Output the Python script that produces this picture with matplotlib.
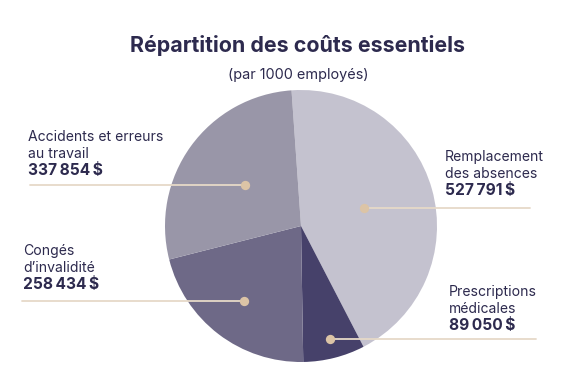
import numpy as np
import matplotlib.pyplot as plt

# data
labels = ["Remplacement\ndes absences", "Prescriptions\nmédicales",
          "Congés\nd\u2019invalidité", "Accidents et erreurs\nau travail"]
values = [527791, 89050, 258434, 337854]
value_labels = ["527\u2009791\u2009$", "89\u2009050\u2009$", "258\u2009434\u2009$", "337\u2009854\u2009$"]

colors = ["#c4c2cf", "#46416a", "#6e6987", "#9996a8"]
text_color = "#2d2a4e"
line_color = "#e6d9c8"
dot_color = "#dcc4a6"

W, H = 570, 378
fig = plt.figure(figsize=(W / 100, H / 100), dpi=100)
ax = fig.add_axes([0, 0, 1, 1])

fam = ["Inter", "DejaVu Sans"]

cx, cy, R = 301, H - 226, 136
wedges, _ = ax.pie(values, center=(cx, cy), radius=R, startangle=94,
                   counterclock=False, colors=colors, frame=True,
                   wedgeprops=dict(linewidth=0))
ax.set_xlim(0, W)
ax.set_ylim(0, H)
ax.set_aspect("equal")
ax.axis("off")

# dot radius (fraction of R), line end x, text anchor (x, top y) in image pixels
dot_r = [0.48, 0.86, 0.69, 0.51]
line_end = [530, 536, 22, 30]
text_pos = [(445, 150), (449, 285), (23, 244), (28, 130)]

for w, r, xe, (tx, ty), lab, val in zip(wedges, dot_r, line_end, text_pos, labels, value_labels):
    mid = np.deg2rad((w.theta1 + w.theta2) / 2)
    dx = cx + r * R * np.cos(mid)
    dy = cy + r * R * np.sin(mid)
    ax.plot([dx, xe], [dy, dy], color=line_color, lw=1.3, zorder=3, solid_capstyle="round")
    ax.scatter([dx], [dy], s=45, color=dot_color, zorder=4, linewidths=0)
    ax.text(tx, H - ty, lab, ha="left", va="top", fontsize=10.1, color=text_color,
            family=fam, linespacing=1.3)
    ax.text(tx, H - ty - 33, val, ha="left", va="top", fontsize=11.2, color=text_color,
            family=fam, fontweight="bold")

ax.text(298, H - 46, "Répartition des coûts essentiels", ha="center", va="center",
        fontsize=15.4, fontweight="bold", color=text_color, family=fam)
ax.text(298, H - 75, "(par 1000 employés)", ha="center", va="center",
        fontsize=10.4, color=text_color, family=fam)

fig.savefig("out.png", dpi=100, facecolor="white")
